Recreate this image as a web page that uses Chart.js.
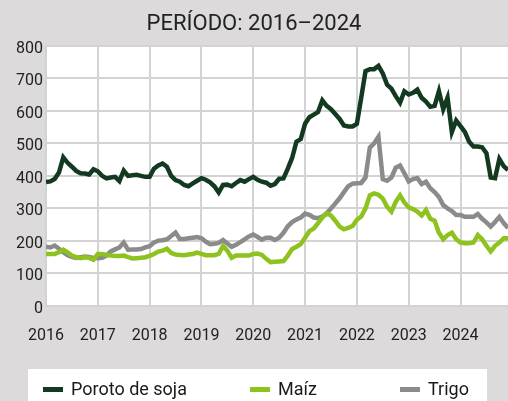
<!DOCTYPE html>
<html><head><meta charset="utf-8">
<script src="https://cdn.jsdelivr.net/npm/chart.js@4.4.1/dist/chart.umd.min.js"></script>
<style>html,body{margin:0;padding:0;background:#dcdadb;}canvas{display:block;}</style>
</head><body>
<canvas id="c" width="508" height="401"></canvas>
<script>
// ---- data (monthly, Jan 2016 – Dec 2024) ----
const startYear = 2016;
const titleText = 'PERÍODO: 2016–2024';
const seriesNames = ['Poroto de soja', 'Maíz', 'Trigo'];
const yearTicks = [2016, 2017, 2018, 2019, 2020, 2021, 2022, 2023, 2024];
const valueTicks = [0, 100, 200, 300, 400, 500, 600, 700, 800];

const soja = [
  381,383,390,410,457,440,428,415,408,407,404,420,
  414,400,392,395,397,384,416,400,402,403,400,397,
  397,422,432,438,428,400,387,382,372,368,377,385,
  393,388,380,368,349,372,373,368,378,387,382,390,
  397,388,382,379,370,375,391,392,422,455,505,513,
  560,580,588,596,632,615,605,590,575,555,552,552,
  560,640,722,728,728,738,715,680,668,645,625,660,
  650,655,665,640,628,612,615,660,605,640,535,570,
  553,535,505,490,490,488,470,395,393,452,430,418
];
const maiz = [
  160,160,160,165,173,165,155,150,147,150,148,142,
  160,160,157,155,154,154,155,150,146,147,148,150,
  154,160,167,170,176,163,158,157,156,158,160,164,
  160,156,156,156,160,184,170,148,155,155,155,155,
  160,161,157,145,135,136,137,138,155,175,182,190,
  210,230,238,255,272,285,278,262,244,236,240,246,
  265,275,300,340,346,342,330,305,290,320,340,318,
  303,298,290,278,295,268,262,225,205,218,225,205,
  195,193,193,195,218,205,185,168,185,195,208,208
];
const trigo = [
  182,180,186,176,165,156,151,148,150,152,151,148,
  147,148,155,168,174,180,195,173,174,174,175,180,
  184,195,201,202,205,215,226,206,206,208,210,212,
  208,198,190,191,194,203,192,182,188,196,205,214,
  220,212,204,210,210,203,210,225,245,258,266,272,
  284,280,272,270,275,285,300,315,331,350,368,376,
  377,378,395,487,500,520,390,385,395,425,432,408,
  383,390,393,375,382,362,350,335,310,300,292,280,
  280,274,274,274,283,268,257,244,258,274,255,240
];

// ---- styles ----
const colors = ['#133a21', '#8dc21f', '#8b8b8b'];
const BG = '#dcdadb';
const GRID = '#d3d3d3';
const FONT = 'Roboto';

const toPoints = arr => arr.map((v, i) => ({ x: startYear + i / 12, y: v }));
const series = [soja, maiz, trigo];

const bgPlugin = {
  id: 'bgPlugin',
  beforeDraw(chart) {
    const { ctx, chartArea: a } = chart;
    ctx.save();
    ctx.fillStyle = BG;
    ctx.fillRect(0, 0, chart.width, chart.height);
    ctx.fillStyle = '#ffffff';
    ctx.fillRect(a.left, a.top, a.right - a.left, a.bottom - a.top);
    ctx.restore();
  }
};

const legendPlugin = {
  id: 'legendPlugin',
  afterDraw(chart) {
    const ctx = chart.ctx;
    ctx.save();
    ctx.fillStyle = '#ffffff';
    ctx.fillRect(28, 369, 459, 40);
    const xs = [43, 250, 400];
    ctx.font = '18px ' + FONT;
    ctx.textBaseline = 'middle';
    ctx.textAlign = 'left';
    chart.data.datasets.forEach((ds, k) => {
      ctx.fillStyle = ds.borderColor;
      ctx.fillRect(xs[k], 387, 20, 5);
      ctx.fillStyle = '#1a1a1a';
      ctx.fillText(ds.label, xs[k] + 28, 390);
    });
    ctx.restore();
  }
};

new Chart(document.getElementById('c'), {
  type: 'line',
  data: {
    datasets: series.map((s, k) => ({
      label: seriesNames[k],
      data: toPoints(s),
      borderColor: colors[k],
      backgroundColor: colors[k],
      borderWidth: 4.5,
      pointRadius: 0,
      tension: 0,
      fill: false
    }))
  },
  options: {
    responsive: false,
    devicePixelRatio: 1,
    animation: false,
    layout: { padding: { top: 0, right: 0, bottom: 59, left: 0 } },
    plugins: {
      legend: { display: false },
      tooltip: { enabled: false },
      title: {
        display: true,
        text: titleText,
        color: '#222222',
        font: { family: FONT, size: 22, weight: 'normal' },
        padding: { top: 11, bottom: 8.3 }
      }
    },
    scales: {
      x: {
        type: 'linear',
        min: startYear,
        max: startYear + (soja.length - 1) / 12,
        afterBuildTicks(axis) { axis.ticks = yearTicks.map(v => ({ value: v })); },
        afterFit(axis) { axis.height = 36; },
        grid: { color: GRID, lineWidth: 2, drawTicks: false },
        border: { display: false },
        ticks: {
          padding: 20, color: '#222222', maxRotation: 0, autoSkip: false,
          font: { family: FONT, size: 16 },
          callback: v => String(v)
        }
      },
      y: {
        min: 0,
        max: 800,
        afterBuildTicks(axis) { axis.ticks = valueTicks.map(v => ({ value: v })); },
        afterFit(axis) { axis.width = 46; },
        grid: { color: GRID, lineWidth: 2, drawTicks: false },
        border: { display: false },
        ticks: {
          padding: 3, labelOffset: 3, color: '#222222',
          font: { family: FONT, size: 16 },
          callback: v => String(v)
        }
      }
    }
  },
  plugins: [bgPlugin, legendPlugin]
});
</script>
</body></html>
